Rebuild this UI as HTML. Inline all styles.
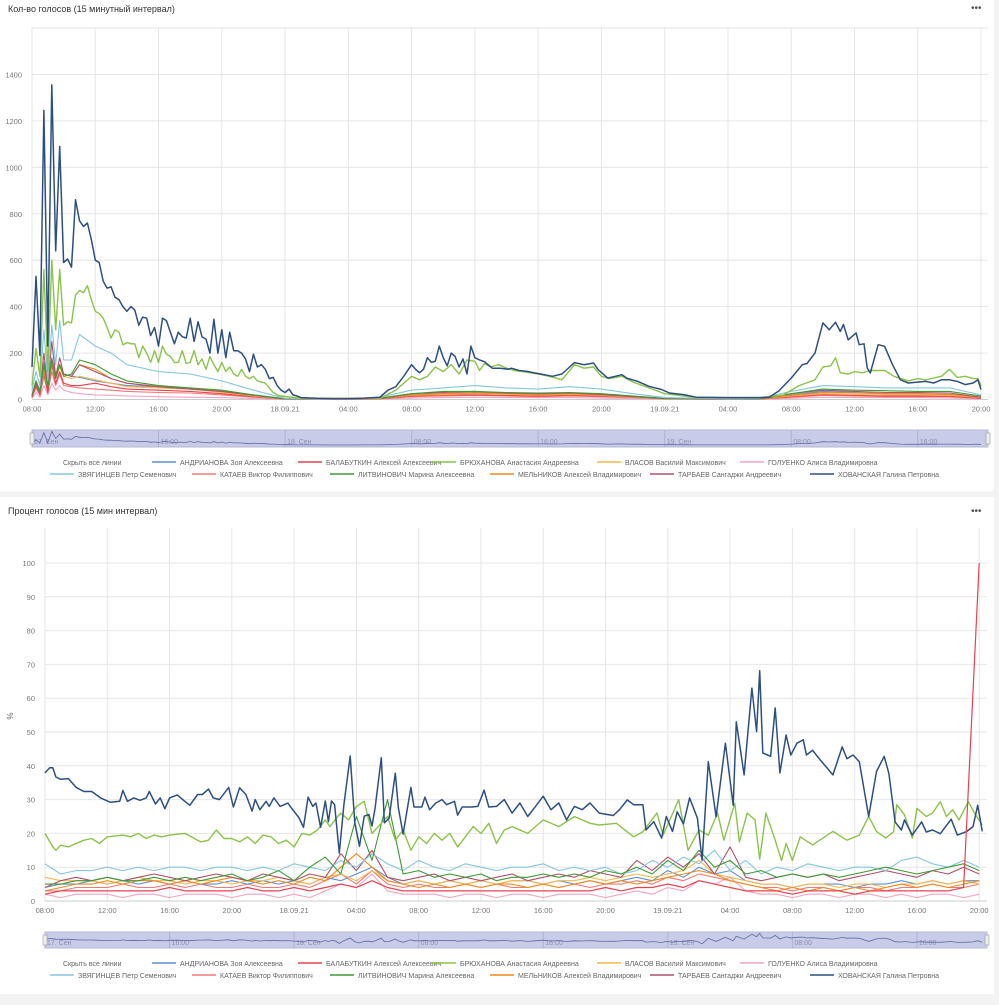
<!DOCTYPE html>
<html><head><meta charset="utf-8">
<style>
body{margin:0;background:#f3f3f3;width:999px;height:1000px;overflow:hidden;font-family:"Liberation Sans","DejaVu Sans",sans-serif;}
svg text{font-family:"Liberation Sans","DejaVu Sans",sans-serif;}
</style></head>
<body>
<svg id="root" width="999" height="1000" viewBox="0 0 999 1000" xmlns="http://www.w3.org/2000/svg">
  <rect x="0" y="0" width="994" height="491" fill="#fff"/>
  <rect x="0" y="497" width="994" height="497" fill="#fff"/>
  <text x="8" y="12" font-size="9" fill="#333">Кол-во голосов (15 минутный интервал)</text>
  <text x="971" y="11" font-size="10" fill="#555">•••</text>
  <text x="8" y="514" font-size="9" fill="#333">Процент голосов (15 мин интервал)</text>
  <text x="971" y="514" font-size="10" fill="#555">•••</text>
  <text x="13" y="716" font-size="8" fill="#666" transform="rotate(-90 13 716)" text-anchor="middle">%</text>
  <g id="top"></g>
  <g id="bot"></g>
  <g id="leg1"></g>
  <g id="leg2"></g>
</svg>
<script>
// ---------- shared data ----------
const seriesNames = ["АНДРИАНОВА Зоя Алексеевна","БАЛАБУТКИН Алексей Алексеевич","БРЮХАНОВА Анастасия Андреевна","ВЛАСОВ Василий Максимович","ГОЛУЕНКО Алиса Владимировна","ЗВЯГИНЦЕВ Петр Семенович","КАТАЕВ Виктор Филиппович","ЛИТВИНОВИЧ Марина Алексеевна","МЕЛЬНИКОВ Алексей Владимирович","ТАРБАЕВ Сангаджи Андреевич","ХОВАНСКАЯ Галина Петровна"];
const xTickLabels = ["08:00","12:00","16:00","20:00","18.09.21","04:00","08:00","12:00","16:00","20:00","19.09.21","04:00","08:00","12:00","16:00","20:00"];
const xTickHours = [0,4,8,12,16,20,24,28,32,36,40,44,48,52,56,60];
const navLabels = ["17. Сен","16:00","18. Сен","08:00","16:00","19. Сен","08:00","16:00"];
const navLabelHours = [0,8,16,24,32,40,48,56];
const topYTicks = [0,200,400,600,800,1000,1200,1400,1600];
const botYTicks = [0,10,20,30,40,50,60,70,80,90,100];

// ---------- top chart (counts) ----------
const topMinorT = [0,0.25,0.5,0.75,1,1.25,1.5,1.75,2,2.5,3,4,5,6,8,10,12,14,16,18,20,22,24,26,28,30,32,34,36,38,40,44,46,48,50,52,54,56,58,60];
const topAndrianova = [20,80,40,160,60,180,100,150,110,100,95,80,70,60,55,45,35,20,3,2,2,5,20,25,30,25,22,25,20,12,5,2,3,20,35,30,25,25,22,10];
const topBalabutkin = [10,60,20,120,30,150,70,120,70,60,60,70,55,45,40,35,25,12,2,2,2,4,15,20,20,18,15,18,15,10,4,2,2,12,22,18,15,15,14,5];
const topVlasov = [15,70,30,130,50,160,90,140,100,90,100,85,70,55,50,45,30,15,3,2,2,5,18,22,25,22,20,22,18,10,4,2,3,15,25,22,20,20,18,8];
const topGoluenko = [5,30,10,60,20,70,40,60,40,30,25,20,18,15,12,10,8,4,1,1,1,2,6,8,10,8,8,8,6,4,2,1,1,5,10,8,8,8,7,3];
const topZvyagintsev = [40,120,60,300,80,320,150,340,170,170,280,230,200,150,120,110,80,40,5,3,3,10,40,50,60,50,45,55,45,25,8,3,5,35,60,55,50,50,50,20];
const topKataev = [10,50,20,100,30,120,60,110,60,55,50,45,40,35,30,28,20,10,2,1,1,3,12,15,18,15,12,15,12,8,3,1,2,10,18,15,12,12,12,5];
const topLitvinovich = [20,80,30,150,50,170,90,150,100,110,170,150,110,80,60,50,40,20,3,2,2,6,25,35,35,30,28,30,25,15,5,2,3,25,45,40,38,35,35,15];
const topMelnikov = [15,70,30,140,50,160,100,150,110,100,150,130,90,70,55,45,35,18,3,2,2,5,20,25,28,25,22,25,20,12,4,2,3,18,30,28,25,25,22,10];
const topTarbaev = [15,70,30,200,50,250,100,180,110,100,150,120,90,70,55,45,35,18,3,2,2,5,25,30,35,28,25,28,22,12,4,2,3,25,40,35,30,30,28,10];

const khovTopEarly = [140,530,190,1245,230,1355,640,1090,590,605,570,860,770,745,760,690,600,590,510,480,485,440,430,400,380,400,385,320,355,350,275,310,230,350,340,290,240,290,270,265,350,250,335,270,260,200,345,200,300,180,290,210,210,200,175,120,195,140,150,130,90,95,60,40,30,45,20,15];
const khovTopLateT = [17,18,19,20,21,22,22.5,23,23.5,24,24.25,24.5,24.75,25,25.25,25.5,25.75,26,26.25,26.5,26.75,27,27.25,27.5,27.75,28,28.3,28.6,29.1,29.6,30.1,30.3,30.8,31.3,31.8,32.4,32.9,33.5,34.3,34.9,35.5,35.8,36.4,37.3,37.6,38.3,39,39.8,40.3,41.2,42,44,46,46.6,47.2,48,48.7,49,49.5,50,50.4,50.8,51.1,51.3,51.6,52.1,52.3,52.6,52.8,53,53.5,53.9,54.4,54.9,55.4,56.5,57,57.5,58,58.5,59,59.5,59.8,60];
const khovTopLateV = [8,5,4,4,6,10,40,55,100,150,130,115,130,180,160,165,230,180,145,200,185,140,175,110,230,180,170,163,135,135,130,135,125,121,114,107,100,110,159,150,157,128,92,107,92,78,57,43,28,21,10,8,8,10,36,92,150,155,200,330,300,333,293,323,257,287,236,240,136,114,236,229,150,85,71,78,71,85,85,78,64,71,85,43];
const bryTopEarly = [60,220,100,560,120,600,300,560,320,335,330,450,470,460,490,430,380,370,350,310,265,300,290,235,245,240,240,180,230,200,160,210,160,230,195,185,160,160,210,155,160,210,150,175,130,185,150,120,160,120,140,110,100,130,100,90,100,80,75,70,50,30,20,15];
const bryTopLateT = [17,22,23,24,24.5,25,25.5,26,26.5,27,27.5,28,28.3,28.6,29,29.5,30,30.5,31,31.5,32,33,33.5,34.3,34.9,35.5,36,36.5,37.3,38,39,40,42,46,47.5,48.5,49.5,50,50.5,50.8,51.1,51.6,52,52.5,53,53.9,54.5,55.4,56,56.5,57.5,58,58.5,59,59.5,59.8,60];
const bryTopLateV = [5,5,40,100,85,100,140,120,150,110,170,165,125,155,140,150,135,125,120,115,110,95,85,150,135,140,100,90,100,75,50,25,8,8,20,60,85,140,145,180,115,110,120,115,125,125,100,80,90,85,100,130,95,100,90,90,60];

// ---------- bottom chart (percent) ----------
const botHourT = [0,1,2,3,4,5,6,7,8,9,10,11,12,13,14,15,16,17,18,19,20,21,22,23,24,25,26,27,28,29,30,31,32,33,34,35,36,37,38,39,40,41,42,43,44,45,46,47,48,49,50,51,52,53,54,55,56,57,58,59,60];
const botZvyagintsev = [11,8,9,9,10,9,10,9,10,10,9,10,10,9,10,9,11,10,9,12,10,14,11,9,12,10,9,11,10,9,10,10,11,9,10,9,10,8,9,12,10,13,11,15,9,12,8,10,9,11,10,9,10,10,9,12,13,11,10,12,10];
const botLitvinovich = [5,5,6,6,7,6,6,7,6,7,6,7,8,6,7,9,6,10,13,8,25,12,30,8,9,7,8,7,8,6,7,7,8,7,8,7,9,8,10,8,12,9,15,10,12,8,9,7,8,7,8,7,8,9,10,9,8,9,10,11,9];
const botTarbaev = [4,6,7,6,7,6,7,8,7,6,7,8,7,6,8,7,6,8,7,14,9,15,7,6,7,8,6,7,6,7,8,6,7,8,7,9,8,7,12,9,13,10,14,8,16,7,6,7,8,7,8,6,7,8,9,8,7,9,8,10,8];
const botMelnikov = [3,4,5,5,6,5,6,6,5,6,5,6,7,6,5,6,5,7,6,10,14,10,6,5,4,5,4,5,4,5,5,4,5,4,5,6,5,6,5,6,7,8,9,8,6,5,4,3,4,3,4,3,4,3,4,5,4,5,4,5,6];
const botVlasov = [7,6,6,6,5,6,7,6,6,5,6,6,5,6,6,7,6,5,7,8,6,9,6,5,6,5,6,5,6,5,6,6,5,6,6,7,6,7,8,7,8,9,12,8,7,6,5,5,4,5,5,4,5,5,4,5,5,6,5,6,5];
const botAndrianova = [4,5,5,6,5,6,5,6,5,6,5,5,6,5,6,5,6,5,7,6,8,10,7,5,6,5,6,5,6,5,6,6,5,6,5,6,5,6,7,6,9,7,10,8,9,6,5,5,4,5,5,5,4,5,5,6,5,6,5,6,6];
const botKataev = [3,3,4,4,4,5,4,4,5,4,5,4,4,5,4,4,5,4,6,8,5,9,5,4,5,4,4,5,4,5,4,4,5,4,5,4,5,5,6,5,7,6,8,7,6,5,4,4,3,4,4,3,4,4,3,4,4,5,4,4,5];
const botGoluenko = [2,1,2,2,2,1,2,2,1,2,2,2,1,2,2,1,2,1,3,5,4,8,3,2,2,2,1,2,2,1,2,2,1,2,2,2,1,2,3,2,4,3,6,5,7,3,2,2,1,2,2,1,2,2,1,2,1,2,2,1,2];
const botBalabutkinT = [0,1,2,3,4,5,6,7,8,9,10,11,12,13,14,15,16,17,18,19,20,21,22,23,24,25,26,27,28,29,30,31,32,33,34,35,36,37,38,39,40,41,42,43,44,45,46,47,48,49,50,51,52,53,54,55,56,57,58,59,60,60.4];
const botBalabutkin = [2,3,3,3,3,3,3,3,4,3,3,3,3,4,3,3,4,3,4,5,4,6,4,3,3,3,3,3,3,3,3,3,3,3,3,3,4,3,4,4,5,4,6,5,4,3,3,3,2,3,3,3,2,3,3,3,3,3,3,4,100];
const khovBotT = [0,0.3,0.5,0.7,1,1.5,2,2.5,3,3.3,3.6,4.2,4.8,5,5.3,5.7,6.1,6.5,6.7,7.1,7.4,7.7,8,8.5,8.9,9.3,9.8,10.1,10.5,10.8,11.2,11.8,12.1,12.5,12.9,13.3,13.5,13.8,14.2,14.4,14.7,15.1,15.6,15.8,16.3,16.6,16.9,17.2,17.4,17.7,18,18.2,18.4,18.6,18.9,19.2,19.6,19.9,20.2,20.5,20.8,21,21.2,21.6,21.8,22.1,22.5,22.7,23,23.5,23.7,24.2,24.4,24.7,25.1,25.5,25.8,26.3,26.5,26.8,27.4,27.8,28.2,28.5,29,29.5,30,30.5,31,31.5,32,32.5,33,33.5,34,34.5,35,35.6,36.5,36.9,37.4,37.8,38.4,38.6,39.1,39.6,39.9,40.3,40.6,41,41.4,41.9,42.2,42.6,43.1,43.7,44.2,44.4,44.9,45.4,45.7,45.9,46.1,46.6,46.9,47.2,47.6,47.9,48.3,48.7,48.9,49.3,49.8,50.6,51.2,51.5,51.9,52.3,52.9,53.4,53.9,54.2,54.6,55,55.2,55.7,56.3,56.6,57,57.5,58.2,58.6,59.2,59.6,59.9,60.2];
const khovBotV = [37.9,39.4,39.4,36.7,36,36.2,33.6,32.4,32.4,31.4,30.4,29.2,29.5,32.7,29.5,30.5,29.8,30.5,32.4,28.7,30.5,27.3,30.5,31.4,29.8,28.3,31.5,31.5,33.1,30.5,30,33.6,27.8,33.5,31.5,26.6,30,27,29.5,28,30.5,28,29,27.7,24.7,21.8,30.7,28,29,21.8,29.6,23.5,29.6,28.5,14.2,28.5,42.9,23.1,16.2,25.1,25.6,22.2,27.5,42.4,23.1,24.5,37.8,27.5,19.8,33.6,27.8,27.8,30.7,27,29,30,28.5,29.5,25.4,27.8,27.8,28,32.8,27.8,28,30,26,29,25,28,31,27,29,24,28,27,29,26,25.3,27,29.9,28.5,28.5,21,23.5,18.6,25,20.6,26.4,22.8,30.5,24.5,12.1,41.2,24.9,46.7,28.3,53,37.3,63,50.1,68.1,43.8,42.8,57.1,37.9,49.1,43.2,46.7,47.7,43.2,44.6,41.7,37.3,45.6,42.1,43.2,41.2,25,38.3,42.8,37.7,23.4,21,24,19.5,23.4,20.4,21,19.9,24.2,19.5,20.6,22,28.3,20.6];
const bryBotT = [0,0.5,0.7,1,1.5,2,2.5,3,3.5,4,5,5.5,6,6.5,7,7.5,8,9,10,10.5,11,11.5,12,12.5,13,13.5,14,14.5,15,15.5,16,16.5,17,17.5,18,18.3,18.8,19,19.5,20,20.5,21,22,22.5,23,23.5,24,24.5,25,25.5,26,26.5,27,27.5,28,28.5,29,29.5,30,31,32,33,34,35,35.6,36.7,37.8,38.4,39.3,39.7,40.7,41.3,42,42.6,43.2,43.6,44.3,44.6,45.1,45.6,45.9,46.3,46.9,47.3,47.6,48,48.5,49.3,50.6,51.5,52.3,52.9,53.4,54,54.5,54.7,55.2,55.7,56,56.6,57,57.5,57.9,58.3,58.7,59.3,59.7,60.2];
const bryBotV = [20,16,15,16.5,16,17,18,18.5,17,19,19.5,19,20,18.5,19.5,19,19.5,20,17.5,18,21,18.5,18.5,17.5,19,17,19.5,19,17,18,16,20,19.5,21,24,22,25,26,24,28,29.5,20,25,18,21,15,19,17,20,18,20,16,19,22,20,23,17,21,22,20,24,22,25,23,22.5,23,19,20.5,26,19.5,30,15,21,19.5,26,18,28.9,17.5,26,24,12.4,26,18,12,17,12,19,16.6,20.6,18,19.5,25,20.6,18.6,20.5,28.5,25.5,18.6,27.4,25,26,29.4,25,27,24,29.4,26,22.5];

// ---------- styling (not data) ----------
const colors = {and:"#5b8fd6",bal:"#e8414f",bry:"#8bc34a",vla:"#f9b748",gol:"#f4a3c3",zvy:"#86c5de",kat:"#f07878",lit:"#3e9a35",mel:"#ef8a1d",tar:"#b0506b",kho:"#2d4f80"};
const legendColors = [colors.and,colors.bal,colors.bry,colors.vla,colors.gol,colors.zvy,colors.kat,colors.lit,colors.mel,colors.tar,colors.kho];
const NS = "http://www.w3.org/2000/svg";
function mk(tag, attrs, parent){const e=document.createElementNS(NS,tag);for(const k in attrs)e.setAttribute(k,attrs[k]);if(parent)parent.appendChild(e);return e;}

function drawChart(g, cfg){
  const xs = h => cfg.left + (h - 0) / cfg.hMax * (cfg.right - cfg.left);
  const ys = v => cfg.bottom - v / cfg.vMax * (cfg.bottom - cfg.top);
  cfg.yTicks.forEach(v=>{
    const ln = mk("line",{x1:cfg.left,x2:cfg.right,y1:ys(v),y2:ys(v),stroke:"#e6e6e6","stroke-width":1},g);
    
    
    if(v<cfg.vLabelMax+0.01){
      const t = mk("text",{x:cfg.left-10,y:ys(v)+3,"font-size":7.5,fill:"#777","text-anchor":"end"},g);
      t.textContent = v;
      
      
    }
  });
  xTickHours.forEach((h,i)=>{
    const ln = mk("line",{x1:xs(h),x2:xs(h),y1:cfg.top,y2:cfg.bottom,stroke:"#e6e6e6","stroke-width":1},g);
    
    
    const t = mk("text",{x:xs(h),y:cfg.bottom+12,"font-size":7.5,fill:"#777","text-anchor":"middle"},g);
    t.textContent = xTickLabels[i];
    
    
  });
  const base = mk("line",{x1:cfg.left,x2:cfg.right,y1:cfg.bottom,y2:cfg.bottom,stroke:"#ccc","stroke-width":1},g);
  
  
  cfg.series.forEach(s=>{
    const d = s.t.map((h,i)=>(i?"L":"M")+xs(h).toFixed(1)+","+ys(s.v[i]).toFixed(1)).join("");
    const p = mk("path",{d:d,fill:"none",stroke:s.color,"stroke-width":s.w||1.1,"stroke-linejoin":"round"},g);
    
    
  });
  const nav = mk("rect",{x:cfg.left,y:cfg.navTop,width:cfg.right-cfg.left,height:cfg.navH,fill:"#c9cce8",stroke:"#b5b8d6"},g);
  
  
  navLabelHours.forEach((h,i)=>{
    const ln = mk("line",{x1:xs(h),x2:xs(h),y1:cfg.navTop,y2:cfg.navTop+cfg.navH,stroke:"#aeb1cf"},g);
    
    
    const t = mk("text",{x:xs(h)+2,y:cfg.navTop+cfg.navH-3,"font-size":7,fill:"#8a8fb0"},g);
    t.textContent = navLabels[i];
    
    
  });
  const ns = cfg.navSeries;
  const nyd = v => cfg.navTop+cfg.navH-2 - v/cfg.navMax*(cfg.navH-3);
  const nd = ns.t.map((h,i)=>(i?"L":"M")+xs(h).toFixed(1)+","+nyd(ns.v[i]).toFixed(1)).join("");
  const np = mk("path",{d:nd,fill:"none",stroke:"#5a6aa0","stroke-width":0.8},g);
  
  
  [cfg.left,cfg.right].forEach(x=>{
    const hnd = mk("rect",{x:x-2,y:cfg.navTop+3,width:4,height:cfg.navH-6,fill:"#eee",stroke:"#999","stroke-width":0.6},g);
    
    
  });
}

const quarterT = khovTopEarly.map((_,k)=>k/4);
const topSeries = [
  {id:"line-andrianova",color:colors.and,t:topMinorT,v:topAndrianova},
  {id:"line-goluenko",color:colors.gol,t:topMinorT,v:topGoluenko},
  {id:"line-kataev",color:colors.kat,t:topMinorT,v:topKataev},
  {id:"line-balabutkin",color:colors.bal,t:topMinorT,v:topBalabutkin},
  {id:"line-vlasov",color:colors.vla,t:topMinorT,v:topVlasov},
  {id:"line-melnikov",color:colors.mel,t:topMinorT,v:topMelnikov},
  {id:"line-tarbaev",color:colors.tar,t:topMinorT,v:topTarbaev},
  {id:"line-litvinovich",color:colors.lit,t:topMinorT,v:topLitvinovich},
  {id:"line-zvyagintsev",color:colors.zvy,t:topMinorT,v:topZvyagintsev},
  {id:"line-bryukhanova",color:colors.bry,t:bryTopEarly.map((_,k)=>k/4).concat(bryTopLateT),v:bryTopEarly.concat(bryTopLateV),w:1.4},
  {id:"line-khovanskaya",color:colors.kho,t:quarterT.concat(khovTopLateT),v:khovTopEarly.concat(khovTopLateV),w:1.5}
];
drawChart(document.getElementById("top"),{
  left:32,right:988,top:28,bottom:399.5,hMax:60.44,vMax:1600,vLabelMax:1400,yTicks:topYTicks,
  series:topSeries,navTop:430,navH:17,navMax:1400,navSeries:topSeries[10]
});

const botSeries = [
  {id:"line-goluenko",color:colors.gol,t:botHourT,v:botGoluenko},
  {id:"line-kataev",color:colors.kat,t:botHourT,v:botKataev},
  {id:"line-andrianova",color:colors.and,t:botHourT,v:botAndrianova},
  {id:"line-vlasov",color:colors.vla,t:botHourT,v:botVlasov},
  {id:"line-melnikov",color:colors.mel,t:botHourT,v:botMelnikov},
  {id:"line-tarbaev",color:colors.tar,t:botHourT,v:botTarbaev},
  {id:"line-zvyagintsev",color:colors.zvy,t:botHourT,v:botZvyagintsev},
  {id:"line-litvinovich",color:colors.lit,t:botHourT,v:botLitvinovich},
  {id:"line-bryukhanova",color:colors.bry,t:bryBotT,v:bryBotV,w:1.4},
  {id:"line-khovanskaya",color:colors.kho,t:khovBotT,v:khovBotV,w:1.5},
  {id:"line-balabutkin",color:colors.bal,t:botBalabutkinT,v:botBalabutkin,w:1.2}
];
drawChart(document.getElementById("bot"),{
  left:45,right:987,top:528,bottom:901,hMax:60.5,vMax:(901-528)/3.38,vLabelMax:100,yTicks:botYTicks,
  series:botSeries,navTop:932,navH:16,navMax:70,navSeries:botSeries[9]
});

function legend(g, y1, y2){
  const hide = mk("text",{x:63,y:y1+3,"font-size":7,fill:"#666"},g);
  hide.textContent = "Скрыть все линии";
  
  
  const row1X = [152,298,432,597,740];
  const row2X = [50,192,330,490,650,810];
  seriesNames.forEach((n,i)=>{
    const x = i<5 ? row1X[i] : row2X[i-5];
    const y = i<5 ? y1 : y2;
    const ln = mk("line",{x1:x,x2:x+24,y1:y,y2:y,stroke:legendColors[i],"stroke-width":1.5},g);
    
    
    const t = mk("text",{x:x+28,y:y+3,"font-size":7,fill:"#666"},g);
    t.textContent = n;
    
    
  });
}
legend(document.getElementById("leg1"),462,474);
legend(document.getElementById("leg2"),963,975);
</script>
</body></html>
